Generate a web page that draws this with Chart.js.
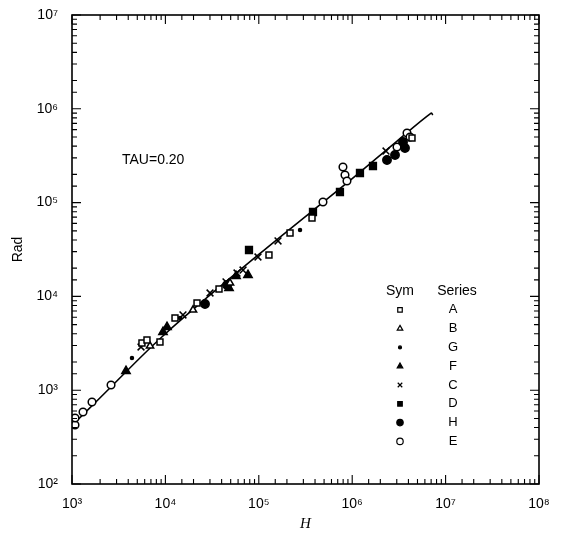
<!DOCTYPE html>
<html>
<head>
<meta charset="utf-8">
<script src="https://cdn.jsdelivr.net/npm/chart.js@4.4.1/dist/chart.umd.min.js"></script>
<style>
  html, body { margin: 0; padding: 0; background: #fff; }
  #wrap { width: 571px; height: 537px; }
</style>
</head>
<body>
<div id="wrap"><canvas id="chart"></canvas></div>
<script>
// Series shown in the key, in the order of the key
const seriesNames = ['A', 'B', 'G', 'F', 'C', 'D', 'H', 'E'];

// Data (H on x, Rad on y)
const seriesA_H   = [5610, 6350, 8750, 12670, 21800, 37500, 128500, 216000, 371300, 4368000];
const seriesA_Rad = [3185, 3427, 3264, 5888, 8510, 11990, 27610, 47470, 68550, 488600];

const seriesB_H   = [6845, 19760, 49170];
const seriesB_Rad = [2958, 7161, 13900];

const seriesG_H   = [4385, 14330, 276300];
const seriesG_Rad = [2203, 5888, 51060];

const seriesF_H   = [3784, 9420, 10400, 47980, 57040, 76600];
const seriesF_Rad = [1603, 4170, 4716, 12290, 16500, 16910];

const seriesC_H   = [5480, 15420, 30050, 44570, 58450, 67780, 97960, 160600, 2301000];
const seriesC_Rad = [2888, 6339, 10870, 14250, 17750, 19110, 26300, 38990, 354800];

const seriesD_H   = [78520, 380300, 739400, 1211000, 1669000];
const seriesD_Rad = [31240, 79430, 129700, 206800, 245500];

const seriesH_H   = [26540, 45700, 2358000, 2873000, 3500000, 3675000];
const seriesH_Rad = [8300, 13240, 284500, 321400, 442600, 382100];

const seriesE_H   = [1077, 1077, 1312, 1637, 2618, 486500, 796300, 837100, 879000, 3018000, 3862000, 4159000];
const seriesE_Rad = [426, 506, 586, 748, 1135, 101500, 239900, 196700, 169900, 391600, 552100, 500400];

// Fitted curve
const fitH   = [1000, 2000, 10000, 100000, 1000000, 3000000, 7000000, 7300000];
const fitRad = [420, 830, 4000, 28000, 180000, 450000, 900000, 860000];

// Axis ranges
const xMin = 1e3, xMax = 1e8;
const yMin = 1e2, yMax = 1e7;

const sup = { '0': '⁰', '1': '¹', '2': '²', '3': '³', '4': '⁴', '5': '⁵', '6': '⁶', '7': '⁷', '8': '⁸', '9': '⁹' };

function isDecade(v) {
    const p = Math.log10(v);
    return Math.abs(p - Math.round(p)) < 1e-9;
}
function decadeLabel(v) {
    if (!isDecade(v)) return '';
    const p = String(Math.round(Math.log10(v)));
    return '10' + p.split('').map(c => sup[c]).join('');
}
function pairs(xs, ys) {
    return xs.map((x, i) => ({ x: x, y: ys[i] }));
}

// marker style per series
const markers = {
    A: { pointStyle: 'rect', fill: false, radius: 4.2 },
    B: { pointStyle: 'triangle', fill: false, radius: 4.2 },
    G: { pointStyle: 'circle', fill: true, radius: 1.5 },
    F: { pointStyle: 'triangle', fill: true, radius: 4.8 },
    C: { pointStyle: 'crossRot', fill: false, radius: 4.8 },
    D: { pointStyle: 'rect', fill: true, radius: 4.8 },
    H: { pointStyle: 'circle', fill: true, radius: 4.2 },
    E: { pointStyle: 'circle', fill: false, radius: 3.8 }
};

const seriesData = {
    A: pairs(seriesA_H, seriesA_Rad),
    B: pairs(seriesB_H, seriesB_Rad),
    G: pairs(seriesG_H, seriesG_Rad),
    F: pairs(seriesF_H, seriesF_Rad),
    C: pairs(seriesC_H, seriesC_Rad),
    D: pairs(seriesD_H, seriesD_Rad),
    H: pairs(seriesH_H, seriesH_Rad),
    E: pairs(seriesE_H, seriesE_Rad)
};

const datasets = [{
    type: 'line',
    label: 'fit',
    data: pairs(fitH, fitRad),
    borderColor: '#000',
    borderWidth: 1.6,
    pointRadius: 0,
    tension: 0.35,
    fill: false,
    order: 10
}];

seriesNames.forEach(name => {
    const m = markers[name];
    datasets.push({
        type: 'scatter',
        label: name,
        data: seriesData[name],
        pointStyle: m.pointStyle,
        pointRadius: m.radius,
        pointHoverRadius: m.radius,
        pointBorderWidth: 1.5,
        pointBorderColor: '#000',
        pointBackgroundColor: m.fill ? '#000' : '#fff',
        order: 1
    });
});

// Frame with inward ticks on all four sides
const framePlugin = {
    id: 'frame',
    afterDraw(chart) {
        const ctx = chart.ctx;
        const a = chart.chartArea;
        const xs = chart.scales.x;
        const ys = chart.scales.y;
        ctx.save();
        ctx.strokeStyle = '#000';
        ctx.lineWidth = 1.6;
        ctx.strokeRect(a.left, a.top, a.right - a.left, a.bottom - a.top);
        ctx.lineWidth = 1.1;
        ctx.beginPath();
        xs.ticks.forEach(t => {
            const px = xs.getPixelForValue(t.value);
            const len = isDecade(t.value) ? 9 : 5;
            ctx.moveTo(px, a.bottom); ctx.lineTo(px, a.bottom - len);
            ctx.moveTo(px, a.top); ctx.lineTo(px, a.top + len);
        });
        ys.ticks.forEach(t => {
            const py = ys.getPixelForValue(t.value);
            const len = isDecade(t.value) ? 9 : 5;
            ctx.moveTo(a.left, py); ctx.lineTo(a.left + len, py);
            ctx.moveTo(a.right, py); ctx.lineTo(a.right - len, py);
        });
        ctx.stroke();
        ctx.restore();
    }
};

// Text annotations: TAU label and the Sym / Series key
const keyPlugin = {
    id: 'key',
    afterDraw(chart) {
        const ctx = chart.ctx;
        ctx.save();
        ctx.fillStyle = '#000';
        ctx.textBaseline = 'middle';
        ctx.font = '14px "Liberation Sans", Arial, sans-serif';
        ctx.textAlign = 'left';
        ctx.fillText('TAU=0.20', 122, 160);

        const symX = 400, serX = 457, top = 291, step = 18.8;
        ctx.font = '14px "Liberation Sans", Arial, sans-serif';
        ctx.textAlign = 'center';
        ctx.fillText('Sym', symX, top);
        ctx.fillText('Series', serX, top);
        ctx.font = '13px "Liberation Sans", Arial, sans-serif';
        seriesNames.forEach((name, i) => {
            const y = top + step * (i + 1);
            const m = markers[name];
            ctx.strokeStyle = '#000';
            ctx.lineWidth = 1.2;
            ctx.fillStyle = m.fill ? '#000' : '#fff';
            Chart.helpers.drawPoint(ctx, {
                pointStyle: m.pointStyle,
                radius: Math.min(m.radius, 3.2),
                rotation: 0,
                borderWidth: 1.2
            }, symX, y);
            ctx.fillStyle = '#000';
            ctx.fillText(name, serX - 4, y);
        });
        ctx.restore();
    }
};

const tickFont = { family: '"Liberation Sans", Arial, sans-serif', size: 14 };

new Chart(document.getElementById('chart'), {
    type: 'scatter',
    data: { datasets: datasets },
    options: {
        responsive: true,
        maintainAspectRatio: false,
        animation: false,
        events: [],
        layout: { padding: { top: 15, right: 32, left: 0, bottom: 0 } },
        plugins: {
            legend: { display: false },
            tooltip: { enabled: false }
        },
        scales: {
            x: {
                type: 'logarithmic',
                min: xMin,
                max: xMax,
                grid: { display: false },
                border: { display: false },
                ticks: {
                    autoSkip: false,
                    maxRotation: 0,
                    color: '#000',
                    font: tickFont,
                    padding: 4,
                    callback: v => decadeLabel(v)
                },
                title: {
                    display: true,
                    text: 'H',
                    color: '#000',
                    font: { family: '"Liberation Serif", serif', size: 15, style: 'italic' },
                    padding: { top: 6 }
                },
                afterFit: s => { s.height = 53; }
            },
            y: {
                type: 'logarithmic',
                min: yMin,
                max: yMax,
                grid: { display: false },
                border: { display: false },
                ticks: {
                    autoSkip: false,
                    color: '#000',
                    font: tickFont,
                    padding: 6,
                    callback: v => decadeLabel(v)
                },
                title: {
                    display: true,
                    text: 'Rad',
                    color: '#000',
                    font: { family: '"Liberation Sans", Arial, sans-serif', size: 14 },
                    padding: { top: 10, bottom: 4 }
                },
                afterFit: s => { s.width = 72; }
            }
        }
    },
    plugins: [framePlugin, keyPlugin]
});
</script>
</body>
</html>
